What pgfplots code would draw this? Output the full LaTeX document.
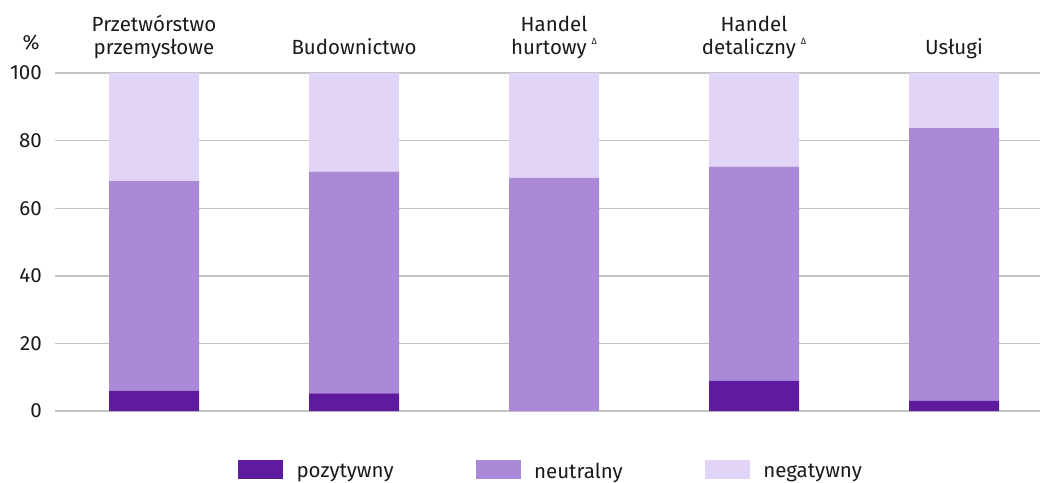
\documentclass[border=0pt]{standalone}
\usepackage{fontspec}
\setmainfont{Fira Sans}
\usepackage{pgfplots}
\pgfplotsset{compat=1.18}
\definecolor{pos}{HTML}{5E1B9F}
\definecolor{neu}{HTML}{AB89D9}
\definecolor{neg}{HTML}{E2D4F6}
\definecolor{gridc}{HTML}{C4C4C4}
\definecolor{txt}{HTML}{1A1A1A}
\newcommand{\tri}{\hspace{5pt}\raisebox{10pt}{\fontsize{9}{9}\selectfont Δ}}
\newcommand{\ff}{\fontsize{20.5}{23.5}\selectfont}
\begin{document}
\ff
\begin{tikzpicture}
\begin{axis}[
  name=ax,
  scale only axis,
  width=985pt, height=338pt,
  xmin=-0.495, xmax=4.43,
  ymin=0, ymax=100,
  ybar stacked,
  bar width=0.45,
  axis line style={draw=none},
  ytick={0,20,...,100},
  ymajorgrids,
  grid style={gridc, line width=1.4pt},
  major tick length=0pt,
  xtick={0,1,2,3,4},
  xticklabels={{Przetwórstwo\\przemysłowe},{Budownictwo},{Handel\\hurtowy\tri},{Handel\\detaliczny\tri},{Usługi}},
  xticklabel pos=upper,
  xticklabel style={align=center, anchor=south, inner sep=0pt, text depth=0pt, yshift=18pt, font=\ff, text=txt},
  yticklabel style={anchor=east, inner sep=0pt, text depth=0pt, xshift=-13pt, font=\ff, text=txt},
  /pgf/number format/assume math mode=true,
  legend columns=3,
  legend style={at={(0.5025,-0.176)}, anchor=center, draw=none, fill=none,
    nodes={inner sep=0pt, font=\ff, text=txt},
    /tikz/every odd column/.append style={column sep=13.5pt},
    /tikz/every even column/.append style={column sep=82pt}},
  legend image code/.code={\fill[#1] (0pt,-7pt) rectangle (45pt,12pt);},
  clip=false,
]
\addplot[fill=pos, draw=none] coordinates {(0,6) (1,5.2) (2,0) (3,9) (4,3)};
\addlegendentry{pozytywny}
\addplot[fill=neu, draw=none] coordinates {(0,62) (1,65.6) (2,69) (3,63.3) (4,80.7)};
\addlegendentry{neutralny}
\addplot[fill=neg, draw=none] coordinates {(0,32) (1,29.2) (2,31) (3,27.7) (4,16.3)};
\addlegendentry{negatywny}
\node[anchor=base, inner sep=0pt, text=txt] at ([xshift=-24pt, yshift=23pt]rel axis cs:0,1) {\%};
\end{axis}
\pgfresetboundingbox
\path[use as bounding box] ([xshift=-55pt, yshift=-71pt]ax.south west) rectangle ([yshift=73pt]ax.north east);
\end{tikzpicture}
\end{document}
